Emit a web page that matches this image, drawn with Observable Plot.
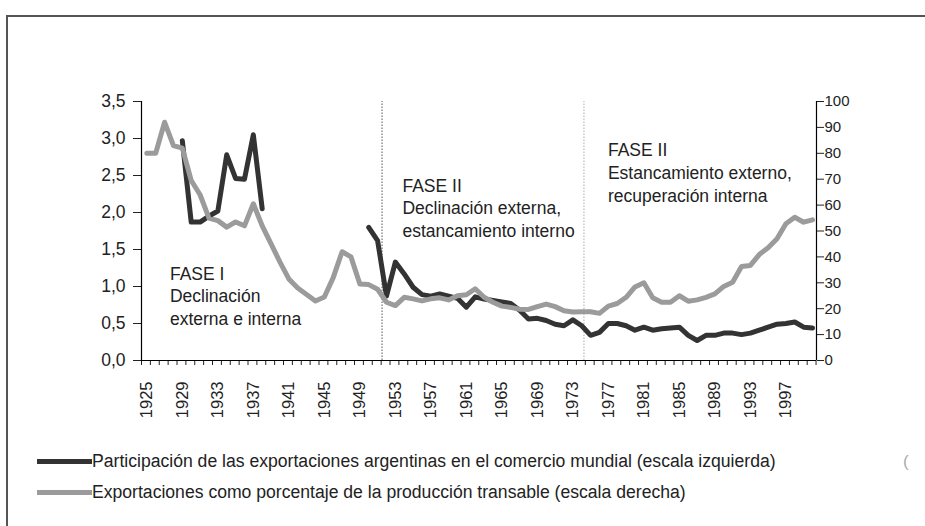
<!DOCTYPE html>
<html>
<head>
<meta charset="utf-8">
<script src="https://cdn.jsdelivr.net/npm/d3@7"></script>
<script src="https://cdn.jsdelivr.net/npm/@observablehq/plot@0.6"></script>
<style>
  body { margin: 0; background: #fff; font-family: "Liberation Sans", Arial, sans-serif; }
  #frame { position: absolute; left: 6px; top: 15px; width: 940px; height: 530px;
           border-top: 2px solid #555; border-left: 2px solid #555; }
  #chart { position: absolute; left: 0; top: 0; }
  .leg { position: absolute; left: 37px; display: flex; align-items: center;
         font-size: 17.6px; color: #222; white-space: nowrap; }
  .sw { width: 55px; height: 5px; }
  #stray { position: absolute; left: 903px; top: 452px; font-size: 17px; color: #aaa; }
</style>
</head>
<body>
<div id="frame"></div>
<div id="chart"></div>
<div class="leg" style="top:451px"><div class="sw" style="background:#333"></div><span id="leg1"></span></div>
<div class="leg" style="top:482px"><div class="sw" style="background:#9b9b9b"></div><span id="leg2"></span></div>
<div id="stray">(</div>
<script>
// ---------- data ----------
const firstYear = 1925;
const lastYear = 2000;
// Participación de las exportaciones argentinas en el comercio mundial (%), escala izquierda
const shareValues = [
  null, null, null, null,                                        // 1925-1928
  2.97, 1.87, 1.87, 1.95, 2.02, 2.78, 2.46, 2.45, 3.05, 2.05,   // 1929-1938
  null, null, null, null, null, null, null, null, null, null, null, // 1939-1949
  1.80, 1.62, 0.87, 1.33, 1.17, 0.99, 0.89, 0.87, 0.90, 0.87,   // 1950-1959
  0.84, 0.72, 0.86, 0.83, 0.81, 0.79, 0.77, 0.68, 0.56, 0.57,   // 1960-1969
  0.54, 0.49, 0.47, 0.55, 0.47, 0.34, 0.38, 0.50, 0.50, 0.47,   // 1970-1979
  0.41, 0.45, 0.41, 0.43, 0.44, 0.45, 0.34, 0.27, 0.34, 0.34,   // 1980-1989
  0.37, 0.37, 0.35, 0.37, 0.41, 0.45, 0.49, 0.50, 0.52, 0.45,   // 1990-1999
  0.44                                                           // 2000
];
// Exportaciones como porcentaje de la producción transable (%), escala derecha
const pctValues = [
  80, 80, 92, 83, 82,                                            // 1925-1929
  69.5, 64, 55, 54, 51.5, 53.5, 52, 60.5, 52, 45,                // 1930-1939
  38, 31.5, 28, 25.5, 23, 24.5, 32, 42, 40, 29.5,                // 1940-1949
  29.3, 27.5, 22.5, 21.2, 24.4, 23.8, 23, 23.8, 24.2, 23.4,      // 1950-1959
  25, 25.4, 27.7, 24.4, 22.5, 21, 20.5, 19.8, 19.7, 20.8,        // 1960-1969
  21.8, 20.8, 19.2, 18.7, 18.8, 18.8, 18.2, 21, 22, 24.4,        // 1970-1979
  28.4, 30, 24.2, 22.5, 22.5, 25, 22.9, 23.4, 24.4, 25.7,        // 1980-1989
  28.6, 30.2, 36.3, 36.7, 40.9, 43.5, 47, 52.8, 55.3, 53.4,      // 1990-1999
  54.3                                                           // 2000
];
const leftTicks = [0, 0.5, 1, 1.5, 2, 2.5, 3, 3.5];
const rightTicks = [0, 10, 20, 30, 40, 50, 60, 70, 80, 90, 100];
const xLabelYears = [1925, 1929, 1933, 1937, 1941, 1945, 1949, 1953, 1957, 1961, 1965, 1969, 1973, 1977, 1981, 1985, 1989, 1993, 1997];
const phaseBreaks = [1951.5, 1974.25];
const annotations = [
  {year: 1927.6, level: 1.31, text: "FASE I\nDeclinación\nexterna e interna"},
  {year: 1953.8, level: 2.5, text: "FASE II\nDeclinación externa,\nestancamiento interno"},
  {year: 1976.95, level: 2.975, text: "FASE II\nEstancamiento externo,\nrecuperación interna"}
];
const legendLabels = [
  "Participación de las exportaciones argentinas en el comercio mundial (escala izquierda)",
  "Exportaciones como porcentaje de la producción transable (escala derecha)"
];

// ---------- build ----------
const ratio = 3.5 / 100; // right scale -> left scale
const years = d3.range(firstYear, lastYear + 1);
const rows = years.map((yr, i) => ({year: yr, share: shareValues[i], pct: pctValues[i]}));
const xDomain = [1924.4, 2000.45];
const minorTicks = d3.range(xDomain[0], xDomain[1] + 0.01, 1);

const chart = Plot.plot({
  width: 925,
  height: 430,
  marginLeft: 141,
  marginRight: 109,
  marginTop: 101,
  marginBottom: 70,
  style: {fontFamily: "'Liberation Sans', Arial, sans-serif", fontSize: "16px", color: "#222", background: "transparent", overflow: "visible"},
  x: {domain: xDomain, axis: null},
  y: {domain: [0, 3.5], axis: null},
  marks: [
    Plot.ruleX([phaseBreaks[0]], {y1: 0, y2: 3.5, stroke: "#555", strokeDasharray: "1.5,1.5", strokeWidth: 1}),
    Plot.ruleX([phaseBreaks[1]], {y1: 0, y2: 3.5, stroke: "#aaa", strokeDasharray: "1.5,1.5", strokeWidth: 1}),
    Plot.axisY({anchor: "left", ticks: leftTicks, tickSize: 8, tickPadding: 8, fontSize: 17.5, label: null,
                tickFormat: d => d.toFixed(1).replace(".", ",")}),
    Plot.axisY({anchor: "right", ticks: rightTicks.map(v => v * ratio), tickSize: 7, tickPadding: 1, fontSize: 15, label: null,
                tickFormat: d => String(Math.round(d / ratio))}),
    Plot.axisX({ticks: minorTicks, tickSize: 5, tickFormat: () => "", label: null}),
    Plot.axisX({ticks: xLabelYears, tickSize: 0, tickPadding: 21, tickRotate: -90, fontSize: 16.5, label: null,
                tickFormat: d => String(d)}),
    Plot.ruleX(xDomain, {y1: 0, y2: 3.5, stroke: "#000", strokeWidth: 1.2}),
    Plot.ruleY([0], {x1: xDomain[0], x2: xDomain[1], stroke: "#000", strokeWidth: 1.2}),
    Plot.line(rows, {x: "year", y: "share", stroke: "#333", strokeWidth: 5, strokeLinejoin: "round"}),
    Plot.line(rows, {x: "year", y: d => d.pct * ratio, stroke: "#9b9b9b", strokeWidth: 5, strokeLinejoin: "round"}),
    Plot.text(annotations, {x: "year", y: "level", text: "text", textAnchor: "start", lineAnchor: "top",
                            lineHeight: 1.29, fontSize: 17.5, fill: "#222"})
  ]
});
document.getElementById("chart").appendChild(chart);
document.getElementById("leg1").textContent = legendLabels[0];
document.getElementById("leg2").textContent = legendLabels[1];
</script>
</body>
</html>
